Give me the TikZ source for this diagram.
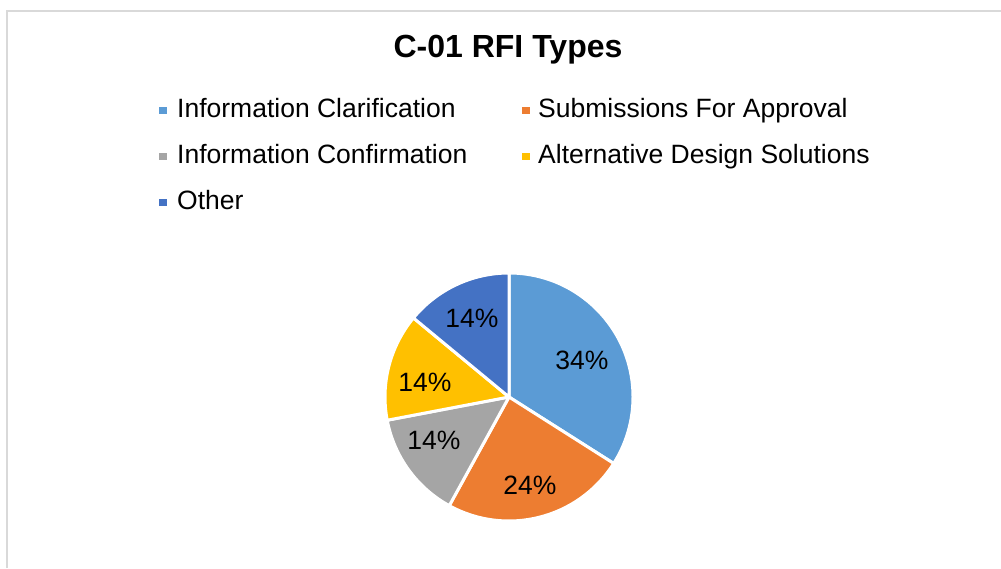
\documentclass[tikz,border=0pt]{standalone}
\usepackage{fontspec}
\setmainfont{Liberation Sans}
\definecolor{cBlueA}{HTML}{5B9BD5}
\definecolor{cOrange}{HTML}{ED7D31}
\definecolor{cGray}{HTML}{A5A5A5}
\definecolor{cGold}{HTML}{FFC000}
\definecolor{cBlueB}{HTML}{4472C4}
\definecolor{cFrame}{HTML}{D9D9D9}
\begin{document}
\begin{tikzpicture}[x=1pt,y=1pt,
  legtext/.style={anchor=base west,inner sep=0pt,font=\fontsize{26.5}{30}\selectfont},
  legmark/.style={minimum size=7.5pt,inner sep=0pt,outer sep=0pt},
  pielabel/.style={inner sep=0pt,font=\fontsize{26.5}{30}\selectfont},
  wedge/.style={draw=white,line width=3pt,line join=round}]
\useasboundingbox (0,0) rectangle (1001,568);
\fill[white] (0,0) rectangle (1001,568);
% frame
\draw[cFrame,line width=1.6pt] (7,0) -- (7,557) -- (1001,557);
% title
\node[anchor=base,inner sep=0pt,font=\bfseries\fontsize{32}{35}\selectfont] (title) at (508,510) {C-01 RFI Types};
% legend
\node[legmark,fill=cBlueA] (m1) at (163,457.5) {};
\node[legtext] (t1) at (177,450) {Information Clarification};
\node[legmark,fill=cOrange] (m2) at (526,457.5) {};
\node[legtext] (t2) at (538,450) {Submissions For Approval};
\node[legmark,fill=cGray] (m3) at (163,411.5) {};
\node[legtext] (t3) at (177,404) {Information Confirmation};
\node[legmark,fill=cGold] (m4) at (526,411.5) {};
\node[legtext] (t4) at (538,404) {Alternative Design Solutions};
\node[legmark,fill=cBlueB] (m5) at (163,365.5) {};
\node[legtext] (t5) at (177,358) {Other};
% pie
\coordinate (c) at (509,171);
\fill[cBlueA,wedge] (c) -- ++(90:124) arc[start angle=90,end angle=-32.4,radius=124] -- cycle;
\fill[cOrange,wedge] (c) -- ++(-32.4:124) arc[start angle=-32.4,end angle=-118.8,radius=124] -- cycle;
\fill[cGray,wedge] (c) -- ++(-118.8:124) arc[start angle=-118.8,end angle=-169.2,radius=124] -- cycle;
\fill[cGold,wedge] (c) -- ++(-169.2:124) arc[start angle=-169.2,end angle=-219.6,radius=124] -- cycle;
\fill[cBlueB,wedge] (c) -- ++(-219.6:124) arc[start angle=-219.6,end angle=-270,radius=124] -- cycle;
% labels
\node[pielabel] (l1) at (582,208) {34\%};
\node[pielabel] (l2) at (530,83) {24\%};
\node[pielabel] (l3) at (434,128) {14\%};
\node[pielabel] (l4) at (425,186) {14\%};
\node[pielabel] (l5) at (472,250) {14\%};
\end{tikzpicture}
\end{document}
